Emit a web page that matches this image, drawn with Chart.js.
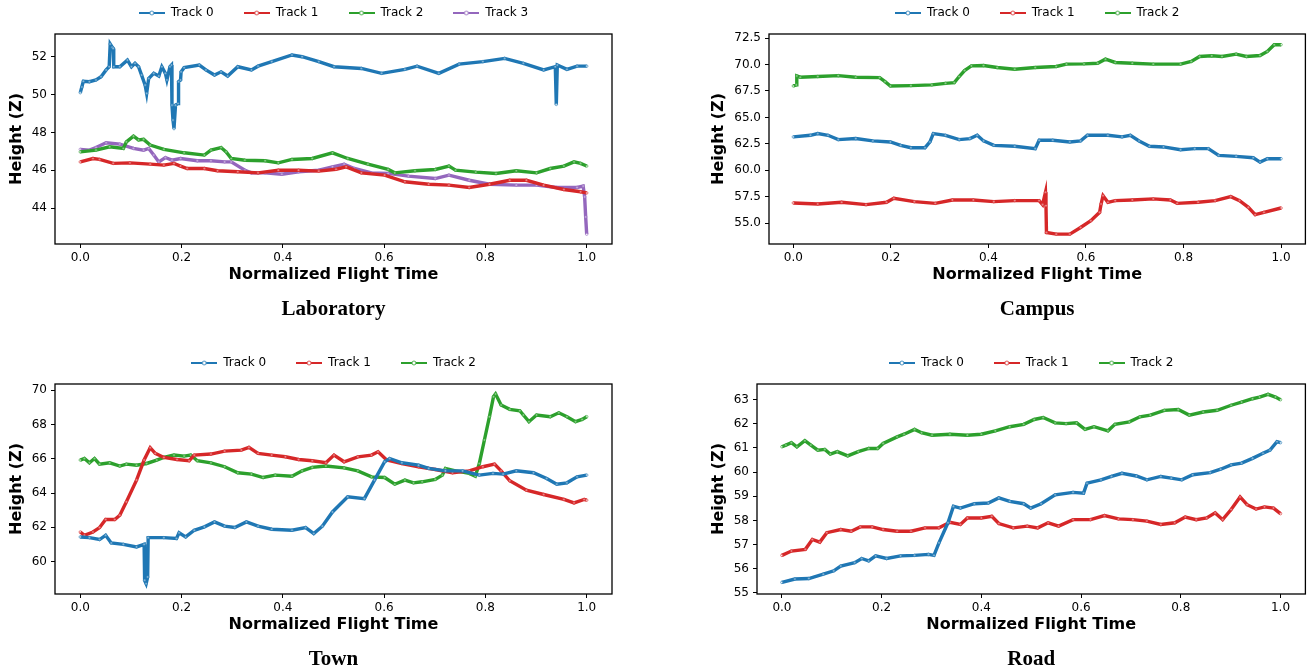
<!DOCTYPE html>
<html>
<head>
<meta charset="utf-8">
<script src="https://cdn.jsdelivr.net/npm/chart.js@4.4.1/dist/chart.umd.min.js"></script>
<style>
  html, body { margin: 0; padding: 0; background: #fff; overflow: hidden; }
  body { width: 1310px; height: 668px; position: relative; }
  .panel { position: absolute; }
</style>
</head>
<body>
<div class="panel" style="left:0;top:0;width:650px;height:334px"><canvas id="lab"></canvas></div>
<div class="panel" style="left:650px;top:0;width:660px;height:334px"><canvas id="campus"></canvas></div>
<div class="panel" style="left:0;top:350px;width:650px;height:334px"><canvas id="town"></canvas></div>
<div class="panel" style="left:650px;top:350px;width:660px;height:334px"><canvas id="road"></canvas></div>
<script>
// [normalized time, height]
const labTrack0 = [[0,50.1],[0.003,50.4],[0.006,50.7],[0.018,50.68],[0.031,50.77],[0.041,50.94],[0.051,51.3],[0.057,51.47],[0.059,52.67],[0.063,52.5],[0.065,52.44],[0.066,51.47],[0.078,51.47],[0.093,51.82],[0.101,51.47],[0.108,51.65],[0.115,51.47],[0.121,51.03],[0.128,50.5],[0.131,50.06],[0.135,50.85],[0.145,51.12],[0.155,50.98],[0.161,51.47],[0.168,51.12],[0.171,50.77],[0.177,51.47],[0.18,51.56],[0.181,49.44],[0.183,48.65],[0.185,48.2],[0.188,49.44],[0.193,49.53],[0.194,50.68],[0.198,50.77],[0.199,51.2],[0.205,51.42],[0.235,51.56],[0.248,51.3],[0.265,51.03],[0.278,51.2],[0.291,50.98],[0.311,51.47],[0.338,51.3],[0.351,51.5],[0.378,51.74],[0.418,52.09],[0.438,52.0],[0.471,51.74],[0.501,51.47],[0.555,51.38],[0.595,51.12],[0.641,51.33],[0.665,51.5],[0.708,51.12],[0.748,51.61],[0.795,51.74],[0.838,51.91],[0.875,51.65],[0.915,51.3],[0.938,51.47],[0.94,49.48],[0.942,51.56],[0.961,51.33],[0.981,51.5],[1.0,51.5]];
const labTrack1 = [[0,46.44],[0.025,46.62],[0.038,46.57],[0.065,46.36],[0.098,46.39],[0.138,46.32],[0.165,46.27],[0.185,46.36],[0.198,46.22],[0.211,46.09],[0.245,46.09],[0.271,45.97],[0.311,45.92],[0.351,45.86],[0.391,46.0],[0.431,46.0],[0.471,45.95],[0.505,46.05],[0.525,46.18],[0.555,45.86],[0.601,45.74],[0.641,45.39],[0.688,45.26],[0.728,45.21],[0.768,45.09],[0.808,45.26],[0.848,45.47],[0.881,45.47],[0.915,45.21],[0.955,44.98],[0.988,44.86],[1.0,44.8]];
const labTrack2 = [[0,46.97],[0.031,47.06],[0.058,47.24],[0.085,47.15],[0.091,47.5],[0.105,47.8],[0.115,47.6],[0.125,47.63],[0.138,47.33],[0.165,47.1],[0.205,46.92],[0.245,46.8],[0.258,47.06],[0.278,47.2],[0.288,46.97],[0.298,46.62],[0.325,46.53],[0.365,46.5],[0.391,46.39],[0.418,46.57],[0.458,46.62],[0.498,46.92],[0.528,46.62],[0.568,46.32],[0.608,46.04],[0.621,45.86],[0.661,45.97],[0.701,46.04],[0.728,46.22],[0.741,46.0],[0.781,45.9],[0.821,45.83],[0.861,45.97],[0.901,45.86],[0.928,46.09],[0.955,46.22],[0.975,46.44],[0.988,46.36],[1.0,46.22]];
const labTrack3 = [[0,47.1],[0.018,47.06],[0.031,47.2],[0.051,47.45],[0.078,47.38],[0.105,47.15],[0.125,47.06],[0.135,47.15],[0.145,46.8],[0.155,46.44],[0.168,46.67],[0.181,46.53],[0.198,46.62],[0.231,46.5],[0.258,46.5],[0.285,46.44],[0.298,46.44],[0.325,46.0],[0.338,45.86],[0.365,45.86],[0.398,45.79],[0.431,45.92],[0.471,46.0],[0.498,46.18],[0.521,46.32],[0.541,46.09],[0.575,45.86],[0.608,45.83],[0.648,45.69],[0.701,45.56],[0.728,45.74],[0.768,45.47],[0.808,45.26],[0.861,45.21],[0.901,45.21],[0.941,45.09],[0.981,45.09],[0.993,45.16],[0.996,44.59],[0.998,43.53],[1.0,42.62]];

const campusTrack0 = [[0,63.16],[0.035,63.31],[0.05,63.47],[0.071,63.31],[0.092,62.9],[0.128,63.0],[0.163,62.78],[0.199,62.68],[0.22,62.36],[0.241,62.14],[0.27,62.14],[0.28,62.68],[0.287,63.47],[0.312,63.31],[0.34,62.9],[0.362,63.0],[0.377,63.31],[0.39,62.78],[0.411,62.36],[0.454,62.27],[0.496,62.05],[0.504,62.84],[0.532,62.84],[0.567,62.68],[0.589,62.78],[0.603,63.31],[0.645,63.31],[0.674,63.16],[0.691,63.31],[0.709,62.78],[0.73,62.27],[0.759,62.21],[0.794,61.95],[0.823,62.05],[0.851,62.05],[0.872,61.41],[0.908,61.32],[0.943,61.19],[0.957,60.78],[0.972,61.1],[1.0,61.1]];
const campusTrack1 = [[0,56.92],[0.05,56.82],[0.099,56.98],[0.149,56.76],[0.191,56.98],[0.206,57.36],[0.248,57.04],[0.291,56.88],[0.326,57.2],[0.369,57.2],[0.411,57.04],[0.454,57.14],[0.504,57.14],[0.511,56.76],[0.517,57.93],[0.518,56.66],[0.519,54.13],[0.539,53.97],[0.567,53.97],[0.589,54.6],[0.61,55.24],[0.628,56.03],[0.631,56.82],[0.635,57.61],[0.645,56.98],[0.66,57.14],[0.695,57.2],[0.738,57.3],[0.773,57.2],[0.787,56.88],[0.83,56.98],[0.865,57.14],[0.897,57.52],[0.915,57.14],[0.933,56.5],[0.947,55.81],[0.965,56.03],[1.0,56.44]];
const campusTrack2 = [[0,67.97],[0.006,68.07],[0.007,68.92],[0.014,68.8],[0.05,68.86],[0.092,68.95],[0.128,68.8],[0.177,68.76],[0.188,68.38],[0.199,67.97],[0.241,68.0],[0.284,68.07],[0.312,68.22],[0.33,68.29],[0.34,68.86],[0.351,69.43],[0.365,69.87],[0.39,69.9],[0.418,69.71],[0.454,69.55],[0.496,69.71],[0.539,69.81],[0.56,70.03],[0.596,70.06],[0.624,70.12],[0.64,70.5],[0.66,70.19],[0.695,70.12],[0.738,70.03],[0.794,70.03],[0.816,70.28],[0.833,70.76],[0.858,70.82],[0.879,70.76],[0.908,70.98],[0.929,70.76],[0.957,70.85],[0.972,71.23],[0.986,71.87],[1.0,71.87]];

const townTrack0 = [[0,61.44],[0.018,61.4],[0.038,61.29],[0.05,61.54],[0.061,61.09],[0.085,61.01],[0.111,60.86],[0.126,61.01],[0.127,58.91],[0.13,58.71],[0.133,59.1],[0.134,61.4],[0.165,61.4],[0.19,61.35],[0.195,61.68],[0.208,61.44],[0.225,61.83],[0.245,62.03],[0.265,62.32],[0.285,62.07],[0.305,61.99],[0.328,62.32],[0.351,62.07],[0.378,61.89],[0.418,61.83],[0.445,61.99],[0.461,61.64],[0.478,62.07],[0.498,62.9],[0.528,63.78],[0.561,63.68],[0.581,64.76],[0.601,65.83],[0.611,66.02],[0.635,65.77],[0.668,65.63],[0.688,65.44],[0.721,65.3],[0.755,65.3],[0.788,65.05],[0.815,65.15],[0.835,65.11],[0.861,65.3],[0.895,65.19],[0.921,64.85],[0.941,64.52],[0.961,64.6],[0.981,64.95],[1.0,65.05]];
const townTrack1 = [[0,61.73],[0.008,61.54],[0.025,61.73],[0.038,61.99],[0.05,62.46],[0.068,62.46],[0.078,62.71],[0.091,63.49],[0.111,64.76],[0.126,65.93],[0.138,66.65],[0.148,66.32],[0.165,66.08],[0.191,65.96],[0.215,65.89],[0.225,66.22],[0.258,66.28],[0.285,66.45],[0.318,66.51],[0.333,66.67],[0.351,66.32],[0.378,66.22],[0.405,66.12],[0.431,65.96],[0.458,65.89],[0.485,65.77],[0.501,66.22],[0.521,65.83],[0.548,66.12],[0.575,66.22],[0.588,66.41],[0.605,65.93],[0.635,65.73],[0.668,65.54],[0.701,65.38],[0.735,65.19],[0.768,65.3],[0.795,65.54],[0.818,65.69],[0.831,65.3],[0.848,64.72],[0.881,64.17],[0.915,63.92],[0.955,63.63],[0.975,63.43],[0.995,63.63],[1.0,63.59]];
const townTrack2 = [[0,65.93],[0.008,66.02],[0.018,65.77],[0.028,66.02],[0.038,65.69],[0.058,65.77],[0.078,65.58],[0.091,65.69],[0.111,65.63],[0.131,65.73],[0.151,65.93],[0.165,66.08],[0.185,66.22],[0.205,66.16],[0.218,66.22],[0.231,65.89],[0.258,65.77],[0.285,65.54],[0.311,65.19],[0.338,65.11],[0.361,64.91],[0.385,65.05],[0.418,64.99],[0.438,65.3],[0.458,65.5],[0.485,65.58],[0.521,65.47],[0.548,65.3],[0.575,64.95],[0.601,64.91],[0.621,64.52],[0.641,64.76],[0.658,64.6],[0.675,64.66],[0.701,64.8],[0.715,65.05],[0.721,65.44],[0.741,65.3],[0.768,65.15],[0.78,64.99],[0.788,65.73],[0.798,67.1],[0.808,68.46],[0.816,69.63],[0.82,69.79],[0.831,69.14],[0.848,68.89],[0.868,68.81],[0.875,68.56],[0.886,68.17],[0.901,68.56],[0.928,68.46],[0.945,68.69],[0.961,68.46],[0.978,68.17],[0.991,68.3],[1.0,68.46]];

const roadTrack0 = [[0,55.43],[0.026,55.57],[0.054,55.59],[0.083,55.77],[0.104,55.91],[0.118,56.11],[0.146,56.25],[0.16,56.42],[0.174,56.32],[0.188,56.53],[0.21,56.42],[0.238,56.53],[0.266,56.55],[0.294,56.59],[0.305,56.55],[0.315,57.07],[0.333,57.9],[0.344,58.58],[0.358,58.51],[0.386,58.69],[0.414,58.72],[0.435,58.93],[0.457,58.79],[0.485,58.69],[0.499,58.51],[0.52,58.69],[0.548,59.06],[0.584,59.16],[0.605,59.13],[0.612,59.54],[0.64,59.68],[0.661,59.82],[0.682,59.95],[0.711,59.84],[0.732,59.68],[0.76,59.82],[0.781,59.75],[0.802,59.68],[0.824,59.89],[0.859,59.98],[0.88,60.12],[0.901,60.3],[0.922,60.37],[0.944,60.57],[0.965,60.78],[0.979,60.91],[0.993,61.26],[1.0,61.22]];
const roadTrack1 = [[0,56.55],[0.019,56.73],[0.047,56.8],[0.061,57.21],[0.076,57.1],[0.09,57.49],[0.118,57.62],[0.139,57.55],[0.157,57.73],[0.181,57.73],[0.203,57.62],[0.231,57.55],[0.259,57.55],[0.287,57.69],[0.315,57.69],[0.337,57.92],[0.358,57.83],[0.372,58.1],[0.4,58.1],[0.421,58.17],[0.435,57.87],[0.464,57.69],[0.492,57.76],[0.513,57.69],[0.534,57.9],[0.555,57.76],[0.584,58.03],[0.619,58.03],[0.647,58.2],[0.675,58.06],[0.704,58.03],[0.732,57.97],[0.76,57.83],[0.788,57.9],[0.809,58.14],[0.831,58.03],[0.852,58.1],[0.869,58.31],[0.884,58.03],[0.901,58.45],[0.919,58.97],[0.933,58.65],[0.951,58.47],[0.968,58.56],[0.986,58.51],[1.0,58.28]];
const roadTrack2 = [[0,61.05],[0.008,61.12],[0.019,61.22],[0.03,61.05],[0.046,61.3],[0.058,61.12],[0.072,60.91],[0.086,60.94],[0.097,60.75],[0.111,60.85],[0.132,60.67],[0.153,60.85],[0.174,60.98],[0.192,60.98],[0.203,61.19],[0.231,61.46],[0.245,61.57],[0.266,61.77],[0.28,61.63],[0.301,61.53],[0.337,61.57],[0.372,61.53],[0.4,61.57],[0.428,61.71],[0.457,61.88],[0.485,61.98],[0.506,62.18],[0.524,62.26],[0.548,62.04],[0.57,62.01],[0.591,62.04],[0.608,61.77],[0.626,61.88],[0.654,61.71],[0.668,61.98],[0.697,62.08],[0.718,62.29],[0.739,62.36],[0.767,62.56],[0.795,62.59],[0.817,62.36],[0.845,62.49],[0.873,62.56],[0.901,62.77],[0.922,62.9],[0.944,63.04],[0.958,63.11],[0.975,63.22],[0.99,63.11],[1.0,63.0]];

const trackNames = ['Track 0', 'Track 1', 'Track 2', 'Track 3'];
const trackColors = ['#1f77b4', '#d62728', '#2ca02c', '#9467bd'];
const xTicks = [0, 0.2, 0.4, 0.6, 0.8, 1.0];
const labTicks = [44, 46, 48, 50, 52];
const campusTicks = [55, 57.5, 60, 62.5, 65, 67.5, 70, 72.5];
const townTicks = [60, 62, 64, 66, 68, 70];
const roadTicks = [55, 56, 57, 58, 59, 60, 61, 62, 63];

Chart.defaults.font.family = 'DejaVu Sans';
Chart.defaults.font.size = 12;
Chart.defaults.color = '#000';

// line + marker handle like matplotlib's legend
const legendHandle = color => {
    const c = document.createElement('canvas');
    c.width = 26; c.height = 8;
    const g = c.getContext('2d');
    g.strokeStyle = color; g.lineWidth = 2;
    g.beginPath(); g.moveTo(0, 4); g.lineTo(26, 4); g.stroke();
    g.beginPath(); g.arc(13, 4, 2, 0, Math.PI * 2);
    g.fillStyle = '#fff'; g.fill(); g.lineWidth = 0.8; g.stroke();
    return c;
};

const frame = {
    id: 'frame',
    afterDraw(chart) {
        const { ctx, chartArea: a } = chart;
        ctx.save();
        ctx.strokeStyle = '#000';
        ctx.lineWidth = 1.3;
        ctx.strokeRect(a.left, a.top, a.right - a.left, a.bottom - a.top);
        ctx.restore();
    }
};

const ejeTicks = { display: true, drawOnChartArea: false, drawTicks: true, tickLength: 4, tickColor: '#000', tickWidth: 1 };

const dibujar = (id, tracks, yMin, yMax, yTicks, dec, titulo, padLeft, yWidth, padRight) => {
    new Chart(document.getElementById(id), {
        type: 'line',
        data: {
            datasets: tracks.map((d, i) => ({
                label: trackNames[i],
                data: d,
                borderColor: trackColors[i],
                backgroundColor: trackColors[i],
                borderWidth: 3.4,
                pointRadius: 1.3,
                pointBorderWidth: 0.6,
                pointBackgroundColor: 'rgba(255,255,255,0.45)',
                pointBorderColor: trackColors[i],
                tension: 0,
                fill: false
            }))
        },
        options: {
            responsive: true,
            maintainAspectRatio: false,
            animation: false,
            layout: { padding: { top: -23, bottom: 11.4, left: padLeft, right: padRight } },
            plugins: {
                legend: {
                    position: 'top',
                    fullSize: false,
                    labels: {
                        usePointStyle: true,
                        pointStyleWidth: 26,
                        padding: 30,
                        color: '#000',
                        font: { size: 12 },
                        generateLabels: chart => Chart.defaults.plugins.legend.labels.generateLabels(chart)
                            .map(it => ({ ...it, pointStyle: legendHandle(trackColors[it.datasetIndex]) }))
                    }
                },
                title: {
                    display: true,
                    text: titulo,
                    position: 'bottom',
                    fullSize: false,
                    color: '#000',
                    font: { family: 'Liberation Serif', size: 21, weight: 'bold' },
                    padding: { top: 7.4, bottom: 0 }
                },
                tooltip: { enabled: false }
            },
            scales: {
                x: {
                    type: 'linear',
                    min: -0.05,
                    max: 1.05,
                    afterBuildTicks: s => { s.ticks = xTicks.map(v => ({ value: v })); },
                    ticks: { callback: v => v.toFixed(1), padding: 3, maxRotation: 0, autoSkip: false },
                    grid: ejeTicks,
                    border: { display: false },
                    title: { display: true, text: 'Normalized Flight Time', font: { size: 16, weight: 'bold' }, padding: { top: 0, bottom: 5.4 } },
                    afterFit: s => { s.height = 46; }
                },
                y: {
                    type: 'linear',
                    min: yMin,
                    max: yMax,
                    afterBuildTicks: s => { s.ticks = yTicks.map(v => ({ value: v })); },
                    ticks: { callback: v => v.toFixed(dec), padding: 4, autoSkip: false },
                    grid: ejeTicks,
                    border: { display: false },
                    title: { display: true, text: 'Height (Z)', font: { size: 16, weight: 'bold' }, padding: { top: 0, bottom: 0 } },
                    afterFit: s => { s.width = yWidth; }
                },
                gap: {
                    type: 'linear',
                    position: 'top',
                    grid: { display: false },
                    border: { display: false },
                    ticks: { display: false },
                    afterFit: s => { s.height = 5; }
                }
            }
        },
        plugins: [frame]
    });
};

dibujar('lab', [labTrack0, labTrack1, labTrack2, labTrack3], 42.1, 53.2, labTicks, 0, 'Laboratory', 7.4, 47.6, 38);
dibujar('campus', [campusTrack0, campusTrack1, campusTrack2], 53.04, 72.88, campusTicks, 1, 'Campus', 59.4, 59.6, 4);
dibujar('town', [townTrack0, townTrack1, townTrack2], 58.11, 70.37, townTicks, 0, 'Town', 7.4, 47.6, 38);
dibujar('road', [roadTrack0, roadTrack1, roadTrack2], 54.95, 63.65, roadTicks, 0, 'Road', 59.4, 47.6, 4);
</script>
</body>
</html>
